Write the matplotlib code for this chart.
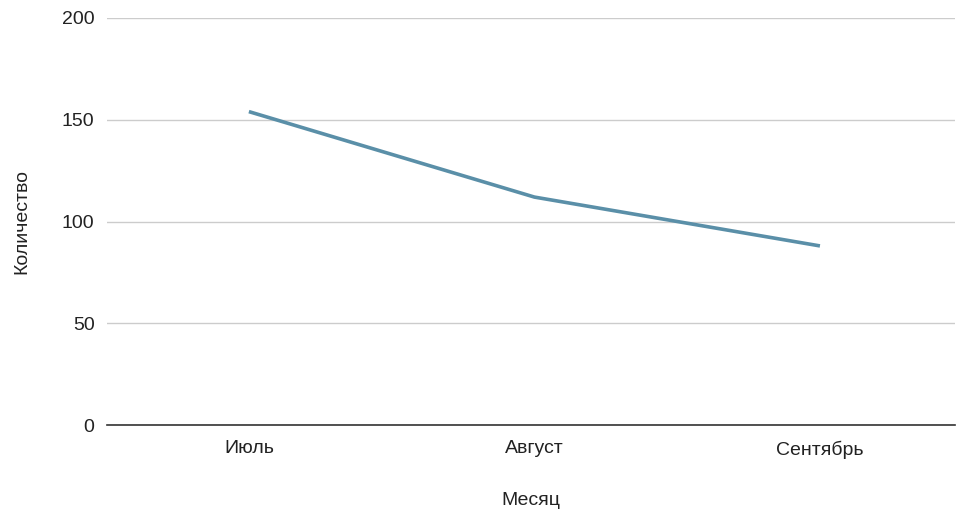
import matplotlib
matplotlib.use("Agg")
import matplotlib.pyplot as plt

months = ["Июль", "Август", "Сентябрь"]
counts = [154, 112, 88]
yticks = [0, 50, 100, 150, 200]

plt.rcParams['font.family'] = ['Liberation Sans', 'DejaVu Sans']

fig = plt.figure(figsize=(9.57, 5.12), dpi=100)
ax = fig.add_axes([107/957, 1-425/512, (955-107)/957, (425-18)/512])

x = list(range(len(months)))
ax.plot(x, counts, color="#5a8fa8", linewidth=2.6, solid_capstyle='butt')

ax.set_xlim(-0.497, 2.473)
ax.set_ylim(0, 200)
ax.set_yticks(yticks)
ax.set_yticklabels([str(v) for v in yticks])
ax.set_xticks(x)
ax.set_xticklabels(months)
ax.grid(axis='y', color='#cccccc', linewidth=1)
ax.set_axisbelow(True)
for s in ['top', 'right', 'left']:
    ax.spines[s].set_visible(False)
ax.spines['bottom'].set_color('#333333')
ax.spines['bottom'].set_linewidth(1.2)
ax.tick_params(axis='both', length=0, labelsize=14, colors='#222222')
ax.tick_params(axis='y', pad=9)
ax.tick_params(axis='x', pad=11)
ax.set_xlabel("Месяц", fontsize=14, color='#222222', labelpad=24)
ax.set_ylabel("Количество", fontsize=14, color='#222222', labelpad=23)

fig.savefig("out.png", dpi=100)
